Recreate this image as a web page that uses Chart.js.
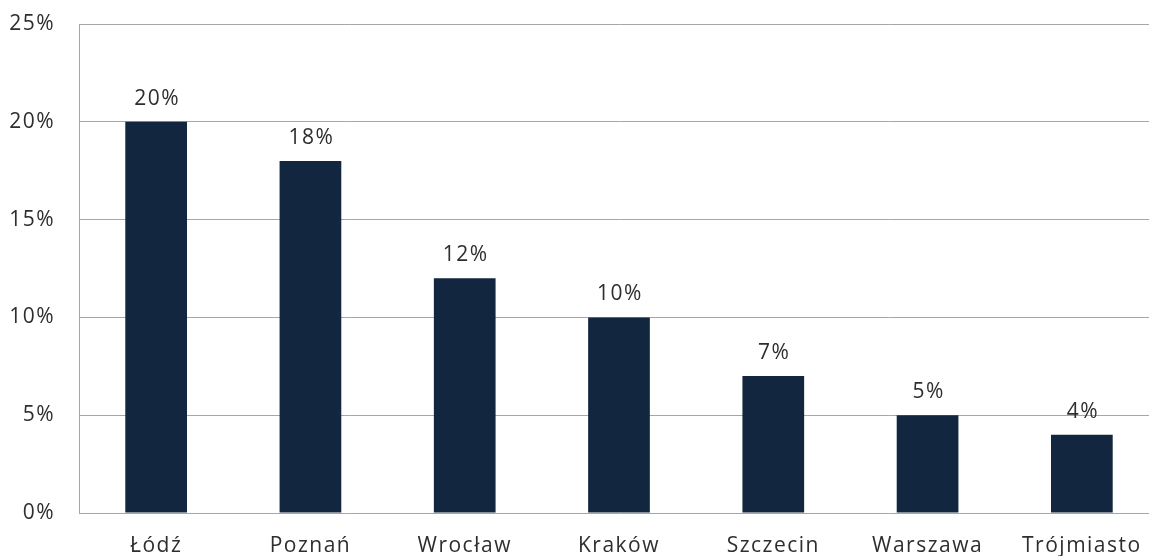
<!DOCTYPE html>
<html>
<head>
<meta charset="utf-8">
<script src="https://cdn.jsdelivr.net/npm/chart.js@4/dist/chart.umd.min.js"></script>
<style>
  html, body { margin: 0; padding: 0; background: #fff; overflow: hidden; }
  #wrap { width: 1159px; height: 556px; position: relative; }
</style>
</head>
<body>
<div id="wrap"><canvas id="c"></canvas></div>
<script>
// Share of respondents by city
const cities = ['Łódź', 'Poznań', 'Wrocław', 'Kraków', 'Szczecin', 'Warszawa', 'Trójmiasto'];
const shares = [20, 18, 12, 10, 7, 5, 4];
const yTicks = [0, 5, 10, 15, 20, 25];

const FONT = { family: '"Open Sans", sans-serif', size: 21 };
const TEXT = '#2e2e2e';
const SPACING = '1.5px';

// Slightly wider letter spacing for all chart text
const textSpacing = {
  id: 'textSpacing',
  beforeDraw(chart) { chart.ctx.letterSpacing = SPACING; }
};

// Percentage labels above each bar
const valueLabels = {
  id: 'valueLabels',
  afterDatasetsDraw(chart) {
    const { ctx } = chart;
    const meta = chart.getDatasetMeta(0);
    ctx.save();
    ctx.letterSpacing = SPACING;
    ctx.font = `${FONT.size}px ${FONT.family}`;
    ctx.fillStyle = TEXT;
    ctx.textAlign = 'center';
    ctx.textBaseline = 'alphabetic';
    meta.data.forEach((bar, i) => {
      ctx.fillText(shares[i] + '%', bar.x + 1, bar.y - 17);
    });
    ctx.restore();
  }
};

new Chart(document.getElementById('c'), {
  type: 'bar',
  data: {
    labels: cities,
    datasets: [{
      data: shares,
      backgroundColor: '#132640',
      borderWidth: 0,
      barPercentage: 0.4,
      categoryPercentage: 1.0
    }]
  },
  options: {
    responsive: true,
    maintainAspectRatio: false,
    animation: false,
    layout: { padding: { top: 24, right: 0, bottom: 0, left: 0 } },
    plugins: { legend: { display: false }, tooltip: { enabled: false } },
    scales: {
      x: {
        grid: { display: false },
        border: { display: false },
        ticks: { color: TEXT, font: FONT, padding: 12, maxRotation: 0 },
        afterFit(scale) { scale.height = 43; }
      },
      y: {
        min: 0,
        max: 25,
        afterBuildTicks(scale) { scale.ticks = yTicks.map(v => ({ value: v })); },
        ticks: {
          color: TEXT,
          font: FONT,
          padding: 24,
          callback: v => v + '%'
        },
        grid: { color: '#a6a6a6', lineWidth: 1, drawTicks: false },
        border: { display: true, color: '#a6a6a6', width: 1 },
        afterFit(scale) {
          scale.width = 79;
          scale.paddingTop = 0;
          scale.paddingBottom = 0;
        }
      }
    }
  },
  plugins: [textSpacing, valueLabels]
});
</script>
</body>
</html>
